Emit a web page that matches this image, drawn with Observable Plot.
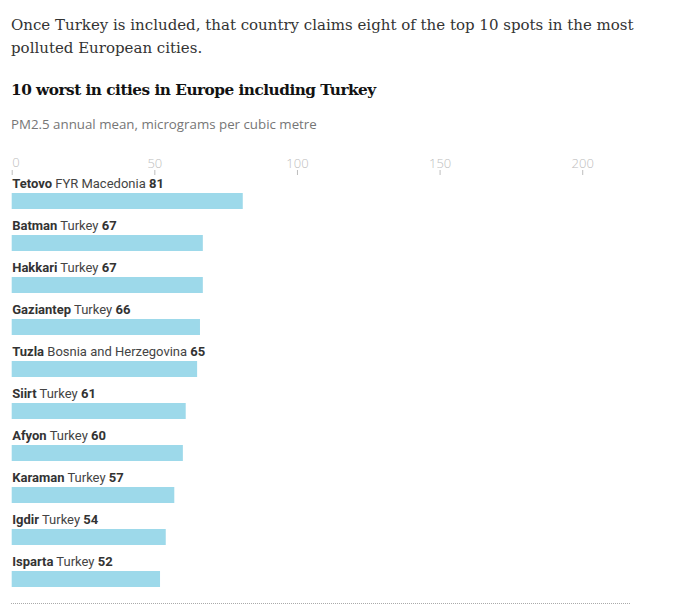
<!DOCTYPE html>
<html>
<head>
<meta charset="utf-8">
<script src="https://cdn.jsdelivr.net/npm/d3@7"></script>
<script src="https://cdn.jsdelivr.net/npm/@observablehq/plot@0.6"></script>
<style>
  body { margin: 0; background: #fff; width: 687px; height: 604px; overflow: hidden; position: relative; }
  .hd-lede { font-family: "DejaVu Serif", serif; font-size: 15px; line-height: 23px; color: #333; margin: 0; position: absolute; top: 14px; left: 11px; width: 632px; }
  .hd-title { font-family: "DejaVu Serif", serif; font-weight: bold; font-size: 15.3px; line-height: 20px; color: #121212; margin: 0; position: absolute; top: 80px; left: 11px; letter-spacing: -0.5px; white-space: nowrap; }
  .hd-sub { font-family: "Open Sans", sans-serif; font-size: 13.3px; line-height: 18px; color: #767676; margin: 0; position: absolute; top: 115px; left: 11px; white-space: nowrap; }
  #chart { position: absolute; top: 150px; left: 0; }
</style>
</head>
<body>
<div class="hd-lede">Once Turkey is included, that country claims eight of the top 10 spots in the most polluted European cities.</div>
<div class="hd-title">10 worst in cities in Europe including Turkey</div>
<div class="hd-sub">PM2.5 annual mean, micrograms per cubic metre</div>
<div id="chart"></div>
<script>
const cities = ["Tetovo", "Batman", "Hakkari", "Gaziantep", "Tuzla", "Siirt", "Afyon", "Karaman", "Igdir", "Isparta"];
const countries = ["FYR Macedonia", "Turkey", "Turkey", "Turkey", "Bosnia and Herzegovina", "Turkey", "Turkey", "Turkey", "Turkey", "Turkey"];
const values = [81, 67, 67, 66, 65, 61, 60, 57, 54, 52];
const ticks = [0, 50, 100, 150, 200];

const data = cities.map((c, i) => ({city: c, country: countries[i], value: values[i]}));
const grid = data.flatMap(d => ticks.filter(t => t > 0 && t < d.value).map(t => ({city: d.city, t})));

const W = 687, mL = 11.7, mR = 56;
const bottomLine = (index, scales, values, dims) => {
  const g = d3.create("svg:line")
    .attr("x1", dims.marginLeft - 0.7).attr("x2", dims.width - dims.marginRight)
    .attr("y1", dims.height - 1.5).attr("y2", dims.height - 1.5)
    .attr("stroke", "#aaa").attr("stroke-dasharray", "1,1");
  return g.node();
};

const plot = Plot.plot({
  width: W,
  height: 455,
  marginLeft: mL,
  marginRight: mR,
  marginTop: 26,
  marginBottom: 9,
  style: {fontFamily: "Open Sans, sans-serif", overflow: "visible", background: "transparent"},
  x: {domain: [0, 217.1], axis: null},
  y: {domain: cities, axis: null, padding: 0},
  marks: [
    Plot.axisX({anchor: "top", ticks, tickSize: 5, tickPadding: 2, dy: -2, tickFormat: d => d === 0 ? "" : d, stroke: "#bdbdbd", fill: "#bdbdbd", color: "#bdbdbd", fontSize: 13, fontWeight: 300}),
    Plot.text([0], {x: d => d, frameAnchor: "top", lineAnchor: "middle", dy: -14, text: d => String(d), textAnchor: "start", fill: "#bdbdbd", fontSize: 13, fontWeight: 300}),
    Plot.barX(data, {x: "value", y: "city", fill: "#9dd9ea", insetTop: 17, insetBottom: 9}),
    Plot.ruleX(grid, {x: "t", y: "city", stroke: "#fff", strokeDasharray: "1,1", insetTop: 17, insetBottom: 9}),
    Plot.text(data, {x: 0, y: "city", dy: -14, textAnchor: "start", text: "city", fill: "#333", fontSize: 13, fontFamily: "Roboto, sans-serif"}),
    bottomLine
  ]
});
document.getElementById("chart").appendChild(plot);

// Rich labels: bold city, regular country, bold value
const groups = d3.select(plot).selectAll('g[aria-label="text"]').nodes()
  .filter(g => g.querySelectorAll("text").length === data.length);
if (groups.length) {
  d3.select(groups[groups.length - 1]).selectAll("text").each(function(_, i) {
    const d = data[i];
    const t = d3.select(this);
    t.text(null);
    t.append("tspan").attr("font-weight", "bold").text(d.city);
    t.append("tspan").attr("fill", "#444").text(" " + d.country + " ");
    t.append("tspan").attr("font-weight", "bold").text(d.value);
  });
}
</script>
</body>
</html>
